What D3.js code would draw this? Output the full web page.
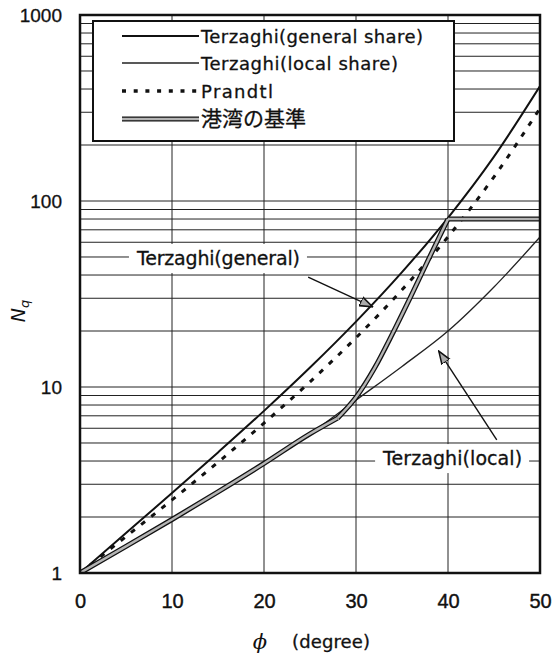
<!DOCTYPE html>
<html>
<head>
<meta charset="utf-8">
<script src="https://cdn.jsdelivr.net/npm/d3@7"></script>
<style>
  body { margin: 0; background: #fff; }
  text { font-family: "DejaVu Sans", sans-serif; fill: #111; }
</style>
</head>
<body>
<div id="chart"></div>
<script>
// bearing capacity factor Nq vs friction angle
var phi = [0, 5, 10, 15, 20, 25, 30, 35, 40, 45, 50];
var terzaghiGeneral = [1.00, 1.64, 2.69, 4.45, 7.44, 12.72, 22.46, 41.44, 81.27, 173.3, 415];
var terzaghiLocal = [1.00, 1.39, 1.94, 2.73, 3.88, 5.60, 8.5, 12.9, 20.0, 34.5, 64];
var prandtl = [1.00, 1.57, 2.47, 3.94, 6.40, 10.66, 18.40, 33.30, 64.20, 134.9, 315];

// 港湾の基準: follows the local curve, rises to 40 deg, then held constant
var portPhiLow = [0, 5, 10, 15, 20, 25, 28];
var portLow = [1.00, 1.39, 1.94, 2.73, 3.88, 5.60, 6.8];
var portPhiRise = [28, 30, 32, 34, 36, 38, 40];
var portRise = [6.8, 8.8, 12.6, 19.5, 31, 50, 80];
var portPhiCap = [40, 50];
var portCap = [80, 80];

var xTicks = [0, 10, 20, 30, 40, 50];
var yTicks = [1, 10, 100, 1000];

var legendLabels = ["Terzaghi(general share)", "Terzaghi(local share)", "Prandtl", "港湾の基準"];

var margin = {top: 15, right: 12, bottom: 82, left: 80},
    width = 552 - margin.left - margin.right,
    height = 655 - margin.top - margin.bottom;

var svg = d3.select("#chart").append("svg")
    .attr("width", 552)
    .attr("height", 655)
  .append("g")
    .attr("transform", "translate(" + margin.left + "," + margin.top + ")");

var x = d3.scaleLinear().domain([0, 50]).range([0, width]);
var y = d3.scaleLog().domain([1, 1000]).range([height, 0]);

var defs = svg.append("defs");
defs.append("clipPath").attr("id", "clip")
  .append("rect").attr("width", width).attr("height", height);

// minor + major horizontal grid
var yGrid = [];
[1, 10, 100].forEach(function(d) {
  for (var k = 1; k < 10; k++) yGrid.push(d * k);
});
yGrid = yGrid.filter(function(v) { return v > 1; });

svg.append("g").selectAll("line")
  .data(yGrid)
  .join("line")
    .attr("x1", 0).attr("x2", width)
    .attr("y1", d => y(d)).attr("y2", d => y(d))
    .attr("stroke", "#222").attr("stroke-width", 1);

svg.append("g").selectAll("line")
  .data([10, 20, 30, 40])
  .join("line")
    .attr("x1", d => x(d)).attr("x2", d => x(d))
    .attr("y1", 0).attr("y2", height)
    .attr("stroke", "#222").attr("stroke-width", 1);

// axes (labels only)
svg.append("g")
  .attr("transform", "translate(0," + height + ")")
  .call(d3.axisBottom(x).tickValues(xTicks).tickSize(0).tickPadding(21).tickFormat(d3.format("d")))
  .call(g => g.select(".domain").remove())
  .selectAll("text")
    .style("font-size", "20px").style("font-family", "Liberation Sans")
    .attr("stroke", "#111").attr("stroke-width", 0.4);

svg.append("g")
  .call(d3.axisLeft(y).tickValues(yTicks).tickSize(0).tickPadding(18).tickFormat(d3.format("d")))
  .call(g => g.select(".domain").remove())
  .selectAll("text")
    .style("font-size", "19px").style("font-family", "Liberation Sans")
    .attr("stroke", "#111").attr("stroke-width", 0.3);

// legend box
var legend = svg.append("g").attr("transform", "translate(13,6)");
legend.append("rect")
  .attr("width", 361).attr("height", 120)
  .attr("fill", "#fff").attr("stroke", "#111").attr("stroke-width", 2);

function line(px) {
  return d3.line()
    .x((d, i) => x(px[i]))
    .y(d => y(d))
    .curve(d3.curveMonotoneX);
}

var plot = svg.append("g").attr("clip-path", "url(#clip)");

plot.append("path").datum(terzaghiLocal)
  .attr("d", line(phi)).attr("fill", "none")
  .attr("stroke", "#222").attr("stroke-width", 1.3);

plot.append("path").datum(terzaghiGeneral)
  .attr("d", line(phi)).attr("fill", "none")
  .attr("stroke", "#111").attr("stroke-width", 2);

plot.append("path").datum(prandtl)
  .attr("d", line(phi)).attr("fill", "none")
  .attr("stroke", "#111").attr("stroke-width", 3)
  .attr("stroke-dasharray", "5,8");

var portParts = [[portPhiLow, portLow], [portPhiRise, portRise], [portPhiCap, portCap]];
portParts.forEach(function(p) {
  plot.append("path").datum(p[1])
    .attr("d", line(p[0])).attr("fill", "none")
    .attr("stroke", "#111").attr("stroke-width", 5).attr("stroke-linejoin", "round");
});
portParts.forEach(function(p) {
  plot.append("path").datum(p[1])
    .attr("d", line(p[0])).attr("fill", "none")
    .attr("stroke", "#b4b4b4").attr("stroke-width", 2.4);
});

// legend rows
var rowY = [15, 42, 70, 98];
var rowWidth = [222, 197, 72, null];
var styles = [
  {w: 2, dash: null, color: "#111"},
  {w: 1.5, dash: null, color: "#222"},
  {w: 3.5, dash: "4,7.7", color: "#111"},
  {w: 5, dash: null, color: "#111", inner: "#b4b4b4"}
];
legendLabels.forEach(function(lab, i) {
  var s = styles[i];
  legend.append("line")
    .attr("x1", 29).attr("x2", 106)
    .attr("y1", rowY[i]).attr("y2", rowY[i])
    .attr("stroke", s.color).attr("stroke-width", s.w)
    .attr("stroke-dasharray", s.dash);
  if (s.inner) {
    legend.append("line")
      .attr("x1", 29).attr("x2", 106)
      .attr("y1", rowY[i]).attr("y2", rowY[i])
      .attr("stroke", s.inner).attr("stroke-width", 2.4);
  }
  var t = legend.append("text")
    .attr("x", 108).attr("y", rowY[i] + 7)
    .style("font-size", i == 3 ? "21px" : "18px")
    .style("font-family", i == 3 ? "Noto Sans CJK JP" : "DejaVu Sans")
    .attr("stroke", "#111").attr("stroke-width", 0.3)
    .text(lab);
  if (rowWidth[i]) t.attr("textLength", rowWidth[i]).attr("lengthAdjust", "spacing");
});

// annotations with arrows
defs.append("marker")
  .attr("id", "arrow").attr("viewBox", "0 0 12 10")
  .attr("refX", 11).attr("refY", 5)
  .attr("markerUnits", "userSpaceOnUse")
  .attr("markerWidth", 14).attr("markerHeight", 12)
  .attr("orient", "auto")
  .append("path").attr("d", "M0,1L11,5L0,9z")
  .attr("fill", "#aaa").attr("stroke", "#111").attr("stroke-width", 1.3);

var notes = [
  {text: "Terzaghi(general)", len: 163, phi: 15.05, nq: 50, from: [24.8, 39], to: [31.8, 27]},
  {text: "Terzaghi(local)", len: 139, phi: 40.5, nq: 4.2, from: [45.3, 5.2], to: [39.0, 15.6]}
];
notes.forEach(function(n) {
  var t = svg.append("text")
    .attr("x", x(n.phi)).attr("y", y(n.nq) + 8)
    .attr("text-anchor", "middle")
    .attr("textLength", n.len).attr("lengthAdjust", "spacing")
    .attr("stroke", "#111").attr("stroke-width", 0.3)
    .style("font-size", "19px")
    .text(n.text);
  var b = t.node().getBBox();
  svg.insert("rect", function() { return t.node(); })
    .attr("x", b.x - 7).attr("y", b.y - 3)
    .attr("width", b.width + 14).attr("height", b.height + 7)
    .attr("fill", "#fff");
  svg.append("line")
    .attr("x1", x(n.from[0])).attr("y1", y(n.from[1]))
    .attr("x2", x(n.to[0])).attr("y2", y(n.to[1]))
    .attr("stroke", "#111").attr("stroke-width", 1.4)
    .attr("marker-end", "url(#arrow)");
});

// frame
svg.append("rect")
  .attr("width", width).attr("height", height)
  .attr("fill", "none").attr("stroke", "#111").attr("stroke-width", 2.5);

// axis titles
svg.append("text")
  .attr("x", 180).attr("y", height + 76)
  .attr("text-anchor", "middle")
  .style("font-size", "21px").style("font-style", "italic").style("font-family", "DejaVu Serif")
  .text("ϕ");
svg.append("text")
  .attr("x", 212).attr("y", height + 75)
  .attr("textLength", 78).attr("lengthAdjust", "spacing")
  .attr("stroke", "#111").attr("stroke-width", 0.3)
  .style("font-size", "18px")
  .text("(degree)");

var yt = svg.append("text")
  .attr("transform", "translate(" + (-55) + "," + (height / 2 + 17) + ") rotate(-90)")
  .attr("text-anchor", "middle")
  .style("font-size", "19px").style("font-style", "italic");
yt.append("tspan").text("N");
yt.append("tspan").attr("dy", 4).style("font-size", "13px").text("q");
</script>
</body>
</html>
